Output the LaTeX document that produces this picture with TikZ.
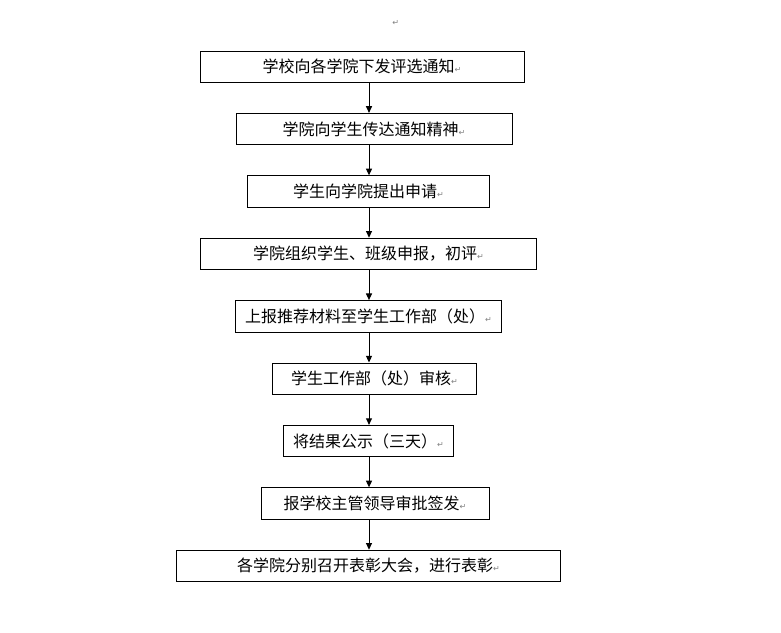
\documentclass[tikz,border=0pt]{standalone}
\usepackage{fontspec}
\setmainfont{Noto Sans CJK SC}
\newfontfamily\symfont{DejaVu Sans}
\usetikzlibrary{arrows.meta,positioning}
\newcommand{\pmark}{{\symfont\fontsize{6}{6}\selectfont\textcolor{gray}{↵}}}
\tikzset{
    stage/.style={draw, line width=0.75pt, minimum height=23.6pt, inner sep=0pt, font=\fontsize{12}{14}\selectfont},
    flow/.style={-{Triangle[length=5pt, width=4.5pt]}, line width=0.75pt}
}

\begin{document}
\begin{tikzpicture}[node distance=22.45pt]
\useasboundingbox (0,0) rectangle (585.75pt,-474pt);
\coordinate (axis) at (276.75pt,0);
\node (mark) at (296.8pt,-17pt) {\pmark};
\node[stage, minimum width=243pt] (notice) at (271.5pt,-50.06pt) {学校向各学院下发评选通知\pmark};
\node[stage, minimum width=207pt, below=of notice, xshift=9pt] (convey) {学院向学生传达通知精神\pmark};
\node[stage, minimum width=181pt, below=of convey, xshift=-4.1pt] (apply) {学生向学院提出申请\pmark};
\node[stage, minimum width=252pt, below=of apply] (review) {学院组织学生、班级申报，初评\pmark};
\node[stage, minimum width=199pt, below=of review] (submit) {上报推荐材料至学生工作部（处）\pmark};
\node[stage, minimum width=153pt, below=of submit, xshift=4.5pt] (audit) {学生工作部（处）审核\pmark};
\node[stage, minimum width=127pt, below=of audit, xshift=-4.5pt] (publicize) {将结果公示（三天）\pmark};
\node[stage, minimum width=171pt, below=of publicize, xshift=4.9pt] (approve) {报学校主管领导审批签发\pmark};
\node[stage, minimum width=288pt, below=of approve, xshift=-4.9pt] (commend) {各学院分别召开表彰大会，进行表彰\pmark};
\draw[flow] (notice.south -| axis) -- (convey.north -| axis);
\draw[flow] (convey.south -| axis) -- (apply.north -| axis);
\draw[flow] (apply.south -| axis) -- (review.north -| axis);
\draw[flow] (review.south -| axis) -- (submit.north -| axis);
\draw[flow] (submit.south -| axis) -- (audit.north -| axis);
\draw[flow] (audit.south -| axis) -- (publicize.north -| axis);
\draw[flow] (publicize.south -| axis) -- (approve.north -| axis);
\draw[flow] (approve.south -| axis) -- (commend.north -| axis);
\end{tikzpicture}
\end{document}
